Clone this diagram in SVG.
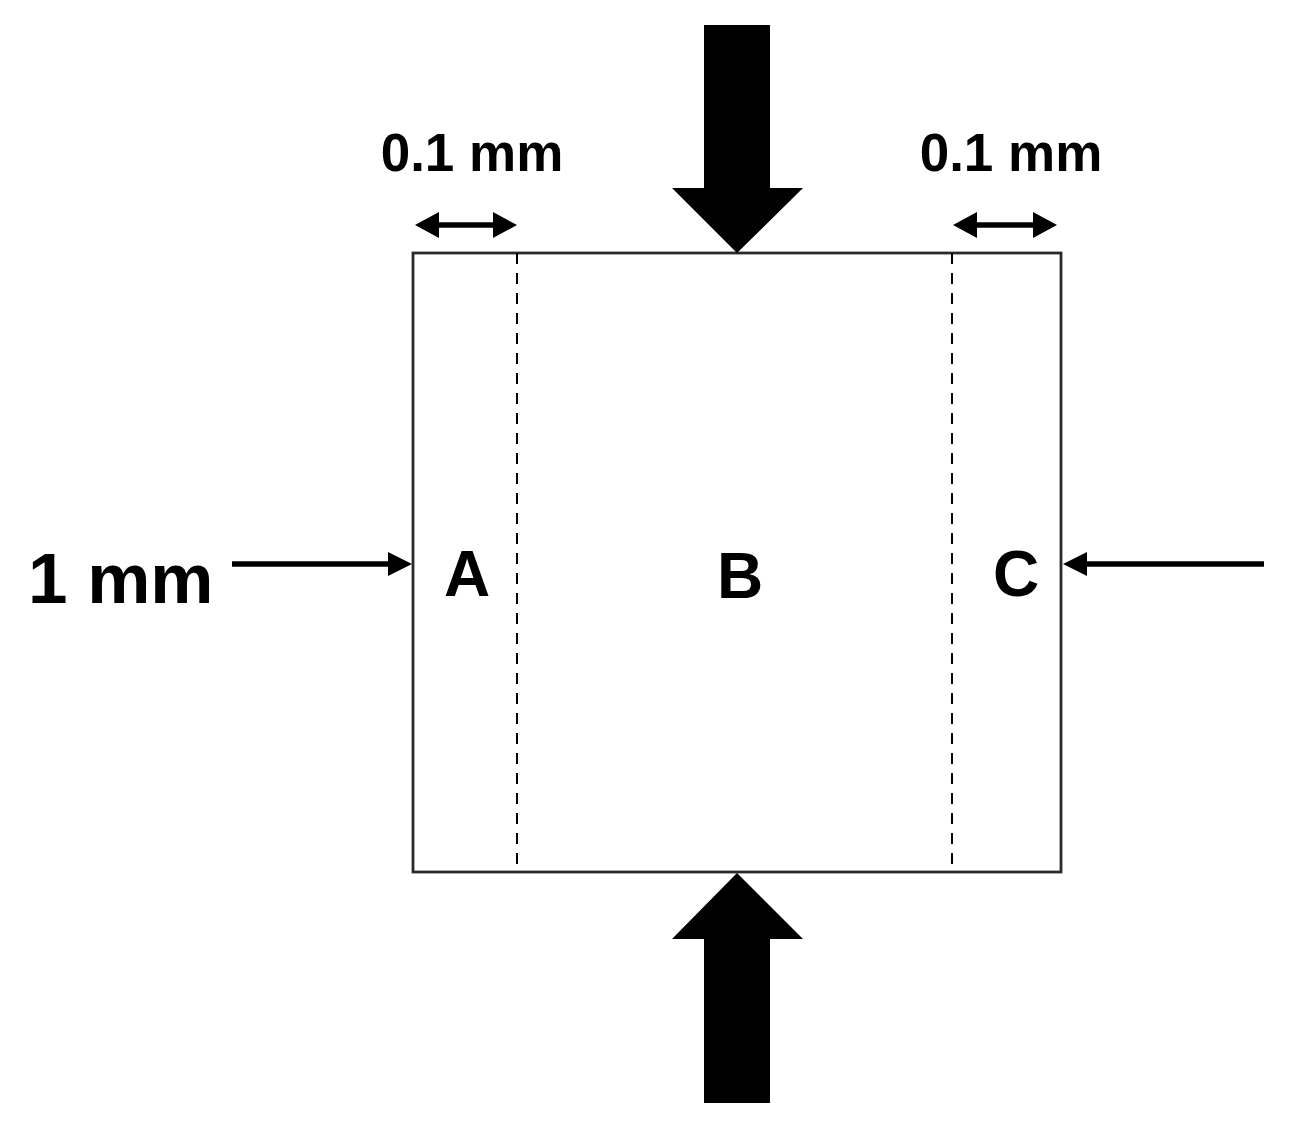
<svg xmlns="http://www.w3.org/2000/svg" width="1292" height="1125" viewBox="0 0 1292 1125">
<style>
.lbl{font-family:"Liberation Sans",Arial,sans-serif;font-weight:bold;fill:#000}
.shaft{stroke:#000;stroke-width:5.5;fill:none}
.dash{stroke:#000;stroke-width:2;stroke-dasharray:11 9;fill:none}
.head{fill:#000}
</style>
<rect width="1292" height="1125" fill="#fff"/>
<g id="specimen">
<rect x="413" y="253" width="648" height="619" fill="#fff" stroke="#2a2a2a" stroke-width="2.8"/>
<line class="dash" x1="517" y1="253" x2="517" y2="864"/>
<line class="dash" x1="952" y1="253" x2="952" y2="864"/>
<text class="lbl" x="467" y="596" font-size="64" text-anchor="middle">A</text>
<text class="lbl" x="740" y="598" font-size="64" text-anchor="middle">B</text>
<text class="lbl" x="1016" y="596" font-size="64" text-anchor="middle">C</text>
</g>
<g id="labels">
<text class="lbl" x="472" y="171" font-size="53" text-anchor="middle">0.1 mm</text>
<text class="lbl" x="1011" y="171" font-size="53" text-anchor="middle">0.1 mm</text>
<text class="lbl" x="28" y="603" font-size="71">1 mm</text>
</g>
<g id="connectors">
<g id="load-top">
<polygon class="head" points="704,25 770,25 770,188 803,188 737,253 672,188 704,188"/>
</g>
<g id="load-bottom">
<polygon class="head" points="704,1103 770,1103 770,939 803,939 737,873 672,939 704,939"/>
</g>
<g id="dim-left">
<line class="shaft" x1="435" y1="225" x2="497" y2="225"/>
<polygon class="head" points="415,225 439,212 439,238"/>
<polygon class="head" points="517,225 493,212 493,238"/>
</g>
<g id="dim-right">
<line class="shaft" x1="973" y1="225" x2="1037" y2="225"/>
<polygon class="head" points="953,225 977,212 977,238"/>
<polygon class="head" points="1057,225 1033,212 1033,238"/>
</g>
<g id="arrow-left">
<line class="shaft" x1="232" y1="564" x2="392" y2="564"/>
<polygon class="head" points="412,564 388,552 388,576"/>
</g>
<g id="arrow-right">
<line class="shaft" x1="1264" y1="564" x2="1083" y2="564"/>
<polygon class="head" points="1063,564 1087,552 1087,576"/>
</g>
</g>
</svg>
